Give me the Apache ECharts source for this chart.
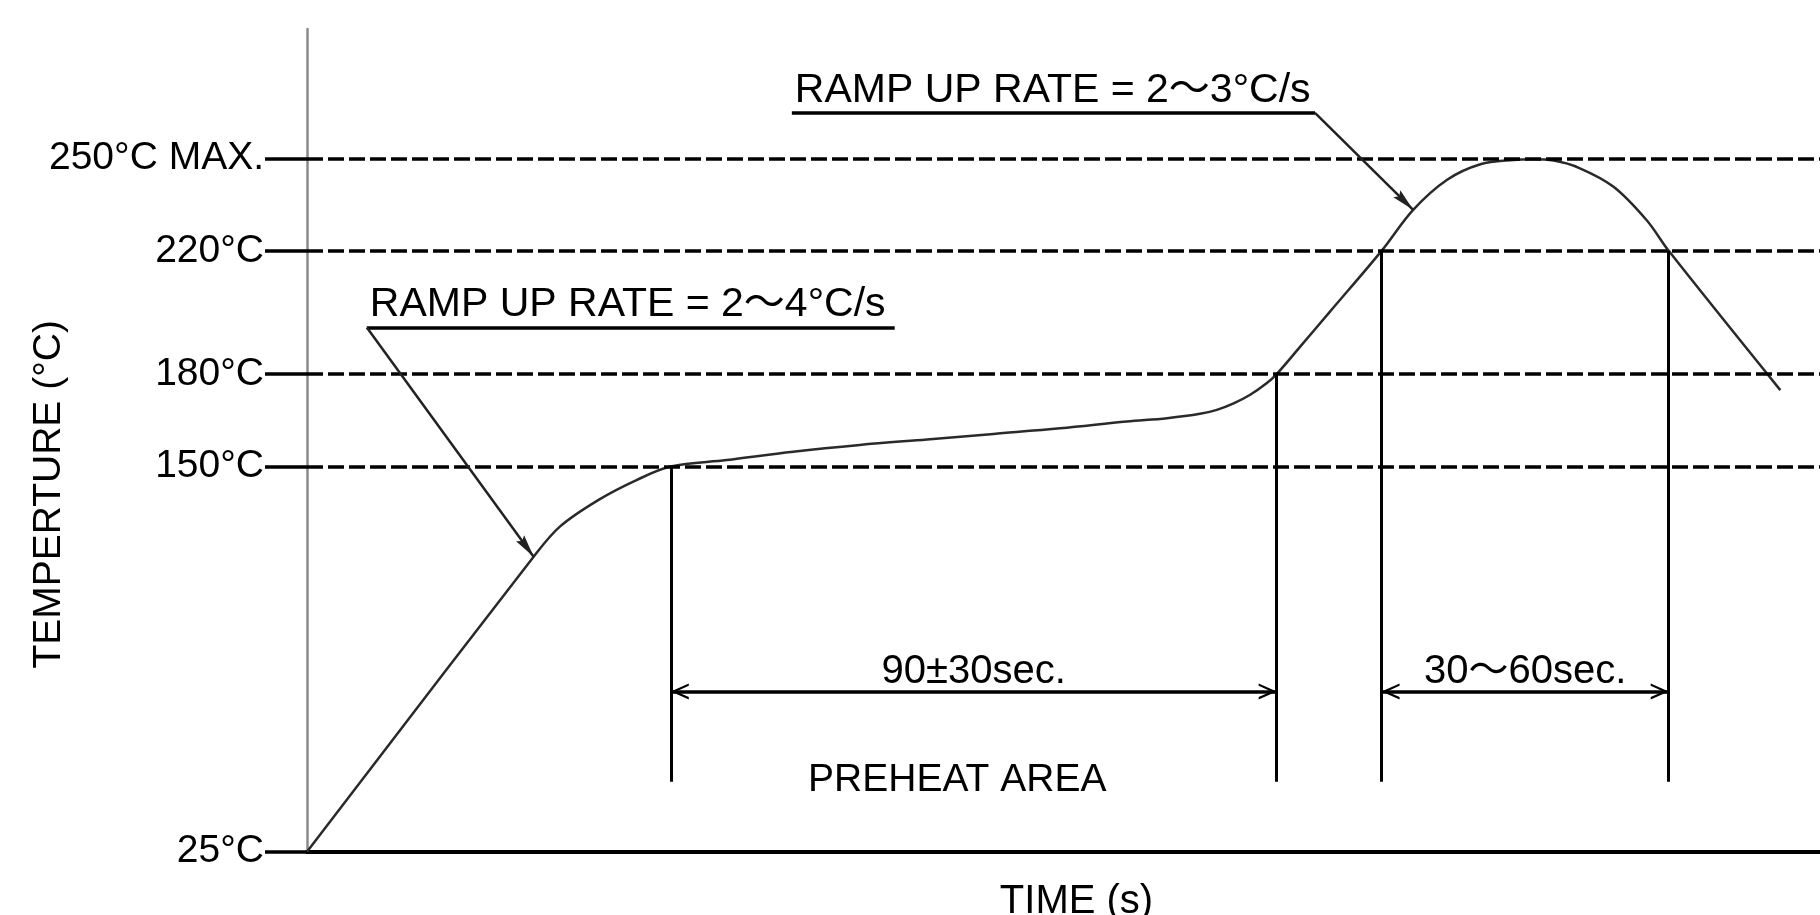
<!DOCTYPE html>
<html><head><meta charset="utf-8">
<script src="https://cdn.jsdelivr.net/npm/echarts@6/dist/echarts.min.js"></script>
<style>html,body{margin:0;padding:0;background:#fff}#c{width:1820px;height:915px}</style>
</head><body><div id="c"></div>
<script>
// reflow profile curve (time in s, temperature in °C)
const timeS = [0, 33.7, 37.6, 43.3, 49.0, 54.1, 62.4, 72.3, 82.2, 92.2, 102.1, 112.0, 121.9, 127.9, 132.8, 135.3, 137.8, 140.2, 142.7, 144.2, 147.7, 152.1, 159.8, 164.5, 169.5, 174.5, 179.4, 182.3, 185.4, 189.3, 194.3, 199.2, 202.5, 219.1];
const tempC = [25, 120.7, 130.5, 139.1, 145.6, 150, 152.1, 154.8, 157.0, 158.8, 160.6, 162.4, 164.6, 165.7, 167.1, 168.4, 170.5, 173.2, 177.0, 180, 188.9, 200.2, 220, 233.3, 243.0, 248.1, 249.5, 249.7, 249.3, 246.8, 240.8, 230.0, 220, 174.8];

// axis ticks
const tempTicks = [25, 150, 180, 220, 250];
const tempTickLabels = ['25°C', '150°C', '180°C', '220°C', '250°C MAX.'];
const dashedLevels = [150, 180, 220, 250];

// zone markers
const zoneTimes = [54.1, 144.2, 159.8, 202.5];
const zoneTemps = [150, 180, 220, 220];
const zoneBottom = 47.7;
const spanLevel = 77;
const spanLabels = ['90±30sec.', '30～60sec.'];
const preheatLabel = 'PREHEAT AREA';
const preheatPos = [96.7, 48.3];

// ramp rate callouts
const rampLabels = ['RAMP UP RATE = 2～4°C/s', 'RAMP UP RATE = 2～3°C/s'];
const rampStart = [8.9, 72.1];
const rampEnd = [87.4, 149.9];
const rampLevel = [195.1, 264.8];
const rampTipIndex = [1, 23];

const xName = 'TIME (s)';
const yName = 'TEMPERTURE (°C)';

const FF = "'Liberation Sans', Arial, 'Noto Sans CJK JP', sans-serif";
const chevron = 'path://M10,0 L10.01,0 L10,0.01 Z M10,20 L20,40 L17,40 L10,26 L3,40 L0,40 Z';
const arrowHead = 'path://M10,0 L10.01,0 L10,0.01 Z M10,20 L16,40 L10,37 L4,40 Z';

const lines = [];
dashedLevels.forEach(v => lines.push({ yAxis: v, lineStyle: { type: [16, 5], width: 3.5, color: '#000' } }));
zoneTimes.forEach((t, i) => lines.push([
  { coord: [t, zoneTemps[i]], lineStyle: { type: 'solid', width: 3, color: '#000' } },
  { coord: [t, zoneBottom] }
]));
[[0, 1], [2, 3]].forEach((p, i) => lines.push([
  { coord: [zoneTimes[p[0]], spanLevel], symbol: chevron, symbolSize: [16, 36],
    lineStyle: { type: 'solid', width: 3.5, color: '#000' },
    label: { show: true, position: 'insideMiddleTop', formatter: spanLabels[i], distance: [0, 0], color: '#000', fontSize: 40, fontFamily: FF } },
  { coord: [zoneTimes[p[1]], spanLevel], symbol: chevron, symbolSize: [16, 36] }
]));
rampLabels.forEach((txt, i) => {
  lines.push([
    { coord: [rampStart[i], rampLevel[i]], lineStyle: { type: 'solid', width: 3.5, color: '#000' },
      label: { show: true, position: 'insideStartTop', formatter: txt, distance: [3, 2], color: '#000', fontSize: 41, fontFamily: FF } },
    { coord: [rampEnd[i], rampLevel[i]] }
  ]);
  const from = i === 0 ? rampStart[i] : rampEnd[i];
  lines.push([
    { coord: [from, rampLevel[i]], lineStyle: { type: 'solid', width: 2.5, color: '#222' } },
    { coord: [timeS[rampTipIndex[i]], tempC[rampTipIndex[i]]], symbol: arrowHead, symbolSize: [10, 46] }
  ]);
});

const chart = echarts.init(document.getElementById('c'), null, { renderer: 'canvas' });
chart.setOption({
  animation: false,
  backgroundColor: '#fff',
  grid: { left: 307, right: 0, top: 29, bottom: 63.3, containLabel: false, outerBoundsMode: 'none' },
  xAxis: {
    type: 'value', min: 0, max: 225,
    axisLine: { show: true, lineStyle: { color: '#000', width: 4 } },
    axisTick: { show: false }, axisLabel: { show: false }, splitLine: { show: false },
    name: xName, nameLocation: 'middle', nameGap: 30, nameMoveOverlap: false,
    nameTextStyle: { color: '#000', fontSize: 40, fontFamily: FF, padding: [0, 0, 0, 26] }
  },
  yAxis: {
    type: 'value', min: 25, max: 292,
    axisLine: { show: true, onZero: false, lineStyle: { color: '#8a8a8a', width: 2.5 } },
    axisTick: { show: true, customValues: tempTicks, length: 42, lineStyle: { color: '#000', width: 3.5 } },
    axisLabel: { show: true, customValues: tempTicks, margin: 43, color: '#000', fontSize: 39, fontFamily: FF,
      formatter: v => tempTickLabels[tempTicks.indexOf(v)] },
    splitLine: { show: false },
    name: yName, nameLocation: 'middle', nameGap: 238, nameMoveOverlap: false,
    nameTextStyle: { color: '#000', fontSize: 39, fontFamily: FF, padding: [0, 108, 0, 0] }
  },
  series: [{
    type: 'line',
    data: timeS.map((t, i) => [t, tempC[i]]),
    showSymbol: false, symbol: 'none',
    smooth: 0.35,
    lineStyle: { color: '#2a2a2a', width: 2.5, join: 'round' },
    silent: true,
    markLine: {
      silent: true, animation: false,
      symbol: ['none', 'none'],
      label: { show: false },
      emphasis: { disabled: true },
      data: lines
    },
    markPoint: {
      silent: true, animation: false,
      symbol: 'rect', symbolSize: 1, itemStyle: { color: 'rgba(0,0,0,0)' },
      label: { show: true, position: 'inside', color: '#000', fontSize: 39, fontFamily: FF, formatter: preheatLabel },
      data: [{ coord: preheatPos }]
    }
  }]
});
</script>
</body></html>
